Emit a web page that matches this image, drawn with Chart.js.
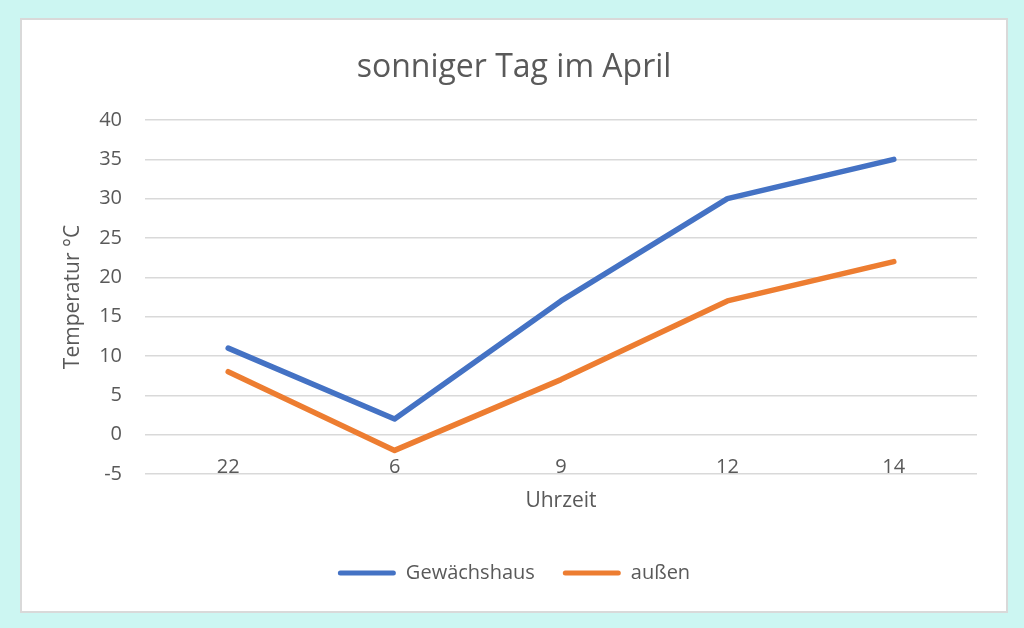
<!DOCTYPE html>
<html>
<head>
<meta charset="utf-8">
<script src="https://cdn.jsdelivr.net/npm/chart.js@4"></script>
<style>
  html, body { margin: 0; padding: 0; background: #ccf6f2; width: 1024px; height: 628px; overflow: hidden; }
  #box { position: absolute; left: 20px; top: 18px; width: 988px; height: 595px; box-sizing: border-box;
         background: #fff; border: 2px solid #d9d9d9; }
  #chart { display: block; }
</style>
</head>
<body>
<div id="box"><canvas id="chart"></canvas></div>
<script>
// ── DATA ─────────────────────────────────────────────────────────────────────
const hours       = ['22', '6', '9', '12', '14'];
const greenhouse  = [11, 2, 17, 30, 35];
const outside     = [8, -2, 7, 17, 22];
const seriesNames = ['Gewächshaus', 'außen'];

const FONT      = '"Open Sans", Lato, sans-serif';
const textColor = '#595959';
const gridColor = '#d9d9d9';

const lineStyle = { borderWidth: 5.5, pointRadius: 0, tension: 0, borderCapStyle: 'round', borderJoinStyle: 'round', xAxisID: 'x' };

const ctx = document.getElementById('chart').getContext('2d');
new Chart(ctx, {
  type: 'line',
  data: {
    labels: hours,
    datasets: [
      { label: seriesNames[0], data: greenhouse, borderColor: '#4472c4', backgroundColor: '#4472c4', ...lineStyle },
      { label: seriesNames[1], data: outside,    borderColor: '#ed7d31', backgroundColor: '#ed7d31', ...lineStyle },
    ]
  },
  options: {
    responsive: true,
    maintainAspectRatio: false,
    animation: false,
    layout: { padding: { left: 29, right: 29, top: 0, bottom: 18 } },
    plugins: {
      title: {
        display: true, text: 'sonniger Tag im April', color: textColor,
        font: { family: FONT, size: 32, weight: 'normal' },
        padding: { top: 28.8, bottom: 32.8 }
      },
      legend: {
        position: 'bottom',
        labels: {
          color: textColor, font: { family: FONT, size: 20 },
          boxWidth: 58, boxHeight: 5, padding: 28,
          useBorderRadius: true, borderRadius: 2.5,
          generateLabels: chart => Chart.defaults.plugins.legend.labels.generateLabels(chart)
            .map(it => ({ ...it, fillStyle: it.strokeStyle, lineWidth: 0 }))
        }
      },
      tooltip: { enabled: false }
    },
    scales: {
      // category axis crosses the value axis at 0, like the original
      x: {
        position: { y: 0 },
        offset: true,
        grid: { display: false, drawTicks: false },
        border: { display: false },
        ticks: { color: textColor, font: { family: FONT, size: 20 }, padding: 20.7 }
      },
      // holds only the axis title below the plot
      x2: {
        type: 'category', labels: hours, position: 'bottom', offset: true,
        grid: { display: false, drawTicks: false },
        border: { display: false },
        ticks: { display: false },
        title: { display: true, text: 'Uhrzeit', color: textColor,
                 font: { family: FONT, size: 21 }, padding: { top: 0, bottom: 21.4 } },
        afterFit: s => { s.height = 61; }
      },
      y: {
        min: -5, max: 40,
        grid: { color: gridColor, lineWidth: 1.5, drawTicks: false },
        border: { display: false },
        ticks: { stepSize: 5, color: textColor, font: { family: FONT, size: 20 }, padding: 23 },
        title: { display: true, text: 'Temperatur °C', color: textColor,
                 font: { family: FONT, size: 21 }, padding: { top: 9.4, bottom: 0 } },
        afterFit: s => { s.width = 94; }
      }
    }
  }
});
</script>
</body>
</html>
